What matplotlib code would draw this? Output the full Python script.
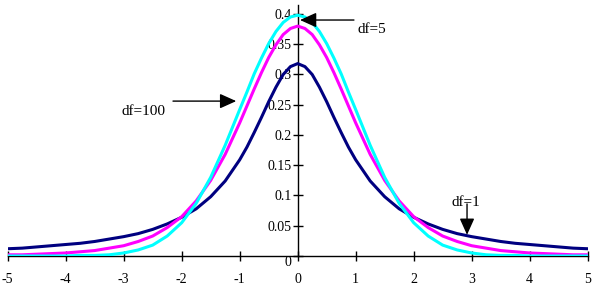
import matplotlib.pyplot as plt

# x grid and pdf values (finer near the peak)
x_vals = [-5, -4.75, -4.5, -4.25, -4, -3.75, -3.5, -3.25, -3, -2.75, -2.5, -2.25,
          -2, -1.75, -1.5, -1.25,
          -1, -0.875, -0.75, -0.625, -0.5, -0.375, -0.25, -0.125, 0,
          0.125, 0.25, 0.375, 0.5, 0.625, 0.75, 0.875, 1,
          1.25, 1.5, 1.75, 2, 2.25, 2.5, 2.75, 3, 3.25, 3.5, 3.75, 4,
          4.25, 4.5, 4.75, 5]
pdf_df1 = [0.012, 0.013, 0.015, 0.017, 0.019, 0.021, 0.024, 0.028, 0.032, 0.037,
           0.044, 0.053, 0.064, 0.078, 0.098, 0.124,
           0.159, 0.180, 0.204, 0.229, 0.255, 0.279, 0.300, 0.313, 0.318,
           0.313, 0.300, 0.279, 0.255, 0.229, 0.204, 0.180, 0.159,
           0.124, 0.098, 0.078, 0.064, 0.053, 0.044, 0.037, 0.032, 0.028, 0.024,
           0.021, 0.019, 0.017, 0.015, 0.013, 0.012]
pdf_df5 = [0.002, 0.002, 0.003, 0.004, 0.005, 0.007, 0.009, 0.013, 0.017, 0.024,
           0.033, 0.047, 0.065, 0.091, 0.125, 0.168,
           0.220, 0.248, 0.276, 0.303, 0.328, 0.349, 0.366, 0.376, 0.380,
           0.376, 0.366, 0.349, 0.328, 0.303, 0.276, 0.248, 0.220,
           0.168, 0.125, 0.091, 0.065, 0.047, 0.033, 0.024, 0.017, 0.013, 0.009,
           0.007, 0.005, 0.004, 0.003, 0.002, 0.002]
pdf_df100 = [0.000, 0.000, 0.000, 0.000, 0.000, 0.001, 0.001, 0.002, 0.005, 0.010,
             0.018, 0.033, 0.055, 0.087, 0.130, 0.183,
             0.242, 0.271, 0.301, 0.327, 0.351, 0.371, 0.386, 0.395, 0.398,
             0.395, 0.386, 0.371, 0.351, 0.327, 0.301, 0.271, 0.242,
             0.183, 0.130, 0.087, 0.055, 0.033, 0.018, 0.010, 0.005, 0.002, 0.001,
             0.001, 0.000, 0.000, 0.000, 0.000, 0.000]

x_ticks = [-5, -4, -3, -2, -1, 0, 1, 2, 3, 4, 5]
y_ticks = [0, 0.05, 0.1, 0.15, 0.2, 0.25, 0.3, 0.35, 0.4]
y_tick_labels = ["0", "0.05", "0.1", "0.15", "0.2", "0.25", "0.3", "0.35", "0.4"]

plt.rcParams['font.family'] = ['Liberation Serif', 'DejaVu Serif']
plt.rcParams['font.size'] = 10

fig = plt.figure(figsize=(5.93, 2.88), dpi=100)
ax = fig.add_axes([0.013, 0.1111, 0.978, 0.8719])

ax.plot(x_vals, pdf_df1, color='#000080', lw=2.2, zorder=3, solid_joinstyle='round')
ax.plot(x_vals, pdf_df5, color='#FF00FF', lw=2.2, zorder=3, solid_joinstyle='round')
ax.plot(x_vals, pdf_df100, color='#00FFFF', lw=2.2, zorder=3, solid_joinstyle='round')

ax.set_xlim(-5, 5)
ax.set_ylim(0, 0.415)

ax.spines['top'].set_visible(False)
ax.spines['right'].set_visible(False)
ax.spines['left'].set_position(('data', 0))
ax.spines['bottom'].set_position(('data', 0))
ax.spines['left'].set_linewidth(1)
ax.spines['bottom'].set_linewidth(1)

ax.set_xticks(x_ticks)
ax.set_xticklabels([str(t) for t in x_ticks])
ax.set_yticks(y_ticks)
ax.set_yticklabels(y_tick_labels)
ax.tick_params(axis='x', direction='inout', length=7, width=1, pad=9)
ax.tick_params(axis='y', direction='inout', length=7, width=1, pad=1)
ax.get_yticklabels()[0].set_va('top')

arrow = dict(arrowstyle='-|>,head_length=1.0,head_width=0.45', color='black',
             lw=1, shrinkA=0, shrinkB=0, mutation_scale=10)

ax.annotate('', xy=(-1.06, 0.256), xytext=(-2.15, 0.256), arrowprops=arrow)
ax.text(-2.65, 0.238, 'df=100', ha='center', va='center', fontsize=11)

ax.annotate('', xy=(0.04, 0.390), xytext=(0.97, 0.390), arrowprops=arrow)
ax.text(1.28, 0.374, 'df=5', ha='center', va='center', fontsize=11)

ax.annotate('', xy=(2.92, 0.035), xytext=(2.92, 0.086), arrowprops=arrow)
ax.text(2.90, 0.089, 'df=1', ha='center', va='center', fontsize=11)

fig.savefig('out.png', dpi=100)
